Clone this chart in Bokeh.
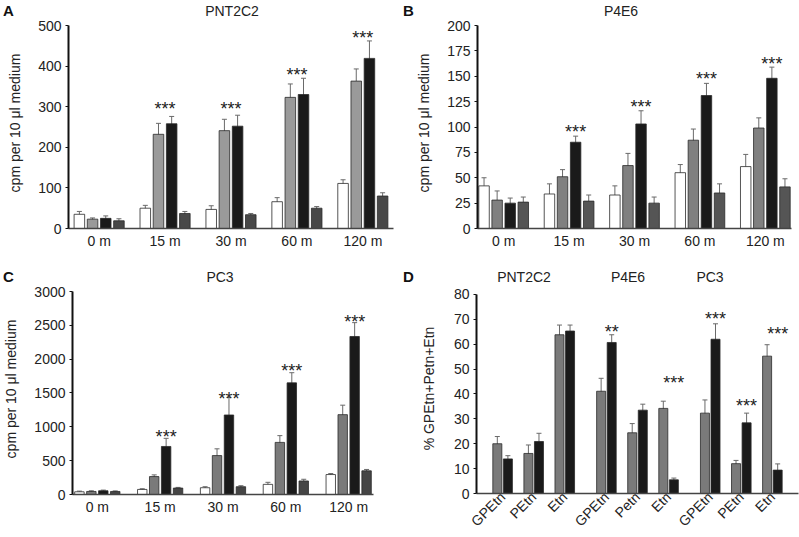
import math
from bokeh.plotting import figure
from bokeh.models import (ColumnDataSource, FactorRange, Whisker, TeeHead, Div,
                          FixedTicker)
from bokeh.transform import dodge
from bokeh.layouts import row, column
from bokeh.core.properties import value
from bokeh.embed import file_html
from bokeh.resources import INLINE

FONT = "Liberation Sans"

times = ["0 m", "15 m", "30 m", "60 m", "120 m"]

# Panel A - PNT2C2
a_s1 = [35, 50, 47, 66, 111]
a_s1_err = [7, 7, 9, 10, 9]
a_s2 = [23, 232, 241, 323, 363]
a_s2_err = [3, 27, 28, 33, 30]
a_s3 = [25, 258, 252, 330, 419]
a_s3_err = [6, 18, 27, 40, 43]
a_s4 = [19, 37, 34, 50, 80]
a_s4_err = [5, 5, 3, 4, 8]
a_star_times = ["15 m", "30 m", "60 m", "120 m"]
a_star_y = [318, 318, 403, 493]

# Panel B - P4E6
b_s1 = [42, 34, 33, 55, 61]
b_s1_err = [8, 10, 9, 8, 12]
b_s2 = [28, 51, 62, 87, 99]
b_s2_err = [9, 7, 12, 11, 10]
b_s3 = [25, 85, 103, 131, 148]
b_s3_err = [5, 6, 13, 12, 11]
b_s4 = [26, 27, 25, 35, 41]
b_s4_err = [5, 6, 6, 9, 8]
b_star_times = ["15 m", "30 m", "60 m", "120 m"]
b_star_y = [105, 129.5, 157, 172]

# Panel C - PC3
c_s1 = [40, 75, 100, 150, 295]
c_s1_err = [10, 10, 15, 30, 15]
c_s2 = [45, 265, 575, 770, 1180]
c_s2_err = [10, 25, 100, 100, 140]
c_s3 = [55, 710, 1175, 1650, 2335]
c_s3_err = [10, 120, 260, 150, 205]
c_s4 = [45, 95, 115, 200, 350]
c_s4_err = [8, 10, 15, 25, 20]
c_star_times = ["15 m", "30 m", "60 m", "120 m"]
c_star_y = [1000, 1565, 1966, 2700]

# Panel D - % of GPEtn+PEtn+Etn
d_groups = ["PNT2C2", "PNT2C2", "PNT2C2", "P4E6", "P4E6", "P4E6", "PC3", "PC3", "PC3"]
d_metab = ["GPEtn", "PEtn", "Etn", "GPEtn", "Petn", "Etn", "GPEtn", "PEtn", "Etn"]
d_gray = [20, 16.1, 63.8, 41.1, 24.4, 34.2, 32.3, 12.0, 55.2]
d_gray_err = [2.9, 3.4, 3.9, 5.2, 3.7, 2.9, 5.3, 1.3, 4.6]
d_black = [13.9, 20.9, 65.3, 60.7, 33.5, 5.5, 62.0, 28.4, 9.4]
d_black_err = [1.3, 3.3, 2.4, 3.1, 2.4, 0.7, 6.2, 3.9, 2.5]
d_star_keys = [("P4E6", "GPEtn"), ("P4E6", "Etn"), ("PC3", "GPEtn"), ("PC3", "PEtn"), ("PC3", "Etn")]
d_star_text = ["**", "***", "***", "***", "***"]
d_star_y = [69, 48.5, 74, 39, 68.3]
d_titles = ["PNT2C2", "P4E6", "PC3"]

ERR_COLOR = "#6a6a6a"
BAR_LINE = "#2a2a2a"


def style_axes(p, ticks, bounds, ylabel, label_standoff):
    p.outline_line_color = None
    p.xgrid.grid_line_color = None
    p.ygrid.grid_line_color = None
    p.background_fill_color = "white"
    p.border_fill_color = "white"
    yax = p.yaxis[0]
    yax.ticker = FixedTicker(ticks=ticks)
    yax.bounds = bounds
    yax.axis_label = ylabel
    yax.axis_label_text_font = FONT
    yax.axis_label_text_font_size = "14px"
    yax.axis_label_text_font_style = "normal"
    yax.axis_label_text_color = "#222222"
    yax.axis_label_standoff = label_standoff
    yax.major_label_text_font = FONT
    yax.major_label_text_font_size = "14px"
    yax.major_label_text_color = "#222222"
    yax.major_tick_out = 3
    yax.major_tick_in = 0
    yax.minor_tick_out = 0
    yax.minor_tick_in = 0
    yax.axis_line_width = 2
    yax.axis_line_color = "#111111"
    yax.major_tick_line_color = "#111111"
    yax.major_label_standoff = 4
    xax = p.xaxis[0]
    xax.major_label_text_font = FONT
    xax.major_label_text_font_size = "14px"
    xax.major_label_text_color = "#222222"
    xax.major_tick_out = 0
    xax.major_tick_in = 0
    xax.axis_line_width = 1.5
    xax.axis_line_color = "#444444"
    xax.major_label_standoff = 4


def header(width, height, letter, names):
    spans = ['<span style="position:absolute;left:3px;top:0px;font-size:15px;'
             'font-weight:bold;color:#111">%s</span>' % letter]
    for cx, top, txt in names:
        spans.append('<span style="position:absolute;left:%dpx;top:%dpx;'
                     'transform:translateX(-50%%);font-size:14px;'
                     'white-space:nowrap;color:#222">%s</span>' % (cx, top, txt))
    html = ('<div style="position:relative;width:%dpx;height:%dpx;'
            'font-family:\'Liberation Sans\',Arial,sans-serif">%s</div>'
            % (width, height, "".join(spans)))
    return Div(text=html, width=width, height=height, margin=0)


def time_panel(series, errs, colors, y_end, y_ticks, y_max,
               star_times, star_y, star_off, width, height,
               b_left, b_right, b_bottom, range_pad, bw, step):
    p = figure(width=width, height=height, output_backend="svg", toolbar_location=None,
               x_range=FactorRange(factors=times, range_padding=range_pad,
                                   range_padding_units="absolute"),
               y_range=(0, y_end), title=None,
               min_border_left=b_left, min_border_right=b_right,
               min_border_top=0, min_border_bottom=b_bottom)
    offs = [-1.5 * step, -0.5 * step, 0.5 * step, 1.5 * step]
    for vals, ers, col, off in zip(series, errs, colors, offs):
        src = ColumnDataSource(dict(t=times, v=vals,
                                    up=[v + e for v, e in zip(vals, ers)],
                                    lo=[v - e for v, e in zip(vals, ers)]))
        p.vbar(x=dodge("t", off, range=p.x_range), top="v", width=bw, source=src,
               fill_color=col, line_color=BAR_LINE, line_width=0.8)
        p.add_layout(Whisker(source=src, base=dodge("t", off, range=p.x_range),
                             upper="up", lower="lo", line_color=ERR_COLOR, line_width=1,
                             upper_head=TeeHead(size=5, line_color=ERR_COLOR, line_width=1),
                             lower_head=TeeHead(size=5, line_color=ERR_COLOR, line_width=1)))
    ssrc = ColumnDataSource(dict(t=star_times, y=star_y, s=["***"] * len(star_times)))
    p.text(x=dodge("t", star_off, range=p.x_range), y="y", text="s", source=ssrc,
           text_font=value(FONT), text_font_size="18px", text_align="center",
           text_baseline="alphabetic", y_offset=10, text_color="#222222")
    style_axes(p, y_ticks, (0, y_max), "cpm per 10 μl medium", 12)
    return p


pA = time_panel([a_s1, a_s2, a_s3, a_s4], [a_s1_err, a_s2_err, a_s3_err, a_s4_err],
                ["#ffffff", "#9a9a9a", "#1a1a1a", "#484848"],
                519.7, [0, 100, 200, 300, 400, 500], 500,
                a_star_times, a_star_y, 0.0, 400, 249, 68, 7, 38, -0.035, 0.16, 0.2)
pB = time_panel([b_s1, b_s2, b_s3, b_s4], [b_s1_err, b_s2_err, b_s3_err, b_s4_err],
                ["#ffffff", "#808080", "#1a1a1a", "#555555"],
                207.9, [0, 25, 50, 75, 100, 125, 150, 175, 200], 200,
                b_star_times, b_star_y, 0.1, 399, 249, 77, 8, 38, -0.1, 0.16, 0.2)
pC = time_panel([c_s1, c_s2, c_s3, c_s4], [c_s1_err, c_s2_err, c_s3_err, c_s4_err],
                ["#ffffff", "#7a7a7a", "#1a1a1a", "#454545"],
                3118.2, [0, 500, 1000, 1500, 2000, 2500, 3000], 3000,
                c_star_times, c_star_y, 0.095, 400, 254, 69, 27, 43, -0.105, 0.15, 0.19)

# Panel D
d_x = list(zip(d_groups, d_metab))
pD = figure(width=399, height=254, output_backend="svg", toolbar_location=None,
            x_range=FactorRange(factors=d_x, group_padding=0.34, range_padding=0.34,
                                range_padding_units="absolute"),
            y_range=(0, 84.4), title=None,
            min_border_left=76, min_border_right=1, min_border_top=0, min_border_bottom=43)
for vals, ers, col, off in [(d_gray, d_gray_err, "#7a7a7a", -0.17),
                            (d_black, d_black_err, "#1a1a1a", 0.17)]:
    src = ColumnDataSource(dict(x=d_x, v=vals,
                                up=[v + e for v, e in zip(vals, ers)],
                                lo=[v - e for v, e in zip(vals, ers)]))
    pD.vbar(x=dodge("x", off, range=pD.x_range), top="v", width=0.29, source=src,
            fill_color=col, line_color=BAR_LINE, line_width=0.8)
    pD.add_layout(Whisker(source=src, base=dodge("x", off, range=pD.x_range),
                          upper="up", lower="lo", line_color=ERR_COLOR, line_width=1,
                          upper_head=TeeHead(size=5, line_color=ERR_COLOR, line_width=1),
                          lower_head=TeeHead(size=5, line_color=ERR_COLOR, line_width=1)))
dsrc = ColumnDataSource(dict(x=d_star_keys, y=d_star_y, s=d_star_text))
pD.text(x=dodge("x", 0.17, range=pD.x_range), y="y", text="s", source=dsrc,
        text_font=value(FONT), text_font_size="18px", text_align="center",
        text_baseline="alphabetic", y_offset=10, text_color="#222222")
style_axes(pD, [0, 10, 20, 30, 40, 50, 60, 70, 80], (0, 80), "% GPEtn+Petn+Etn", 14)
xd = pD.xaxis[0]
xd.major_label_orientation = math.pi / 4
xd.major_label_standoff = 1
xd.group_text_font_size = "0px"
xd.group_text_alpha = 0
xd.separator_line_alpha = 0

hA = header(400, 17, "A", [(232, 1, "PNT2C2")])
hB = header(399, 17, "B", [(221, 1, "P4E6")])
hC = header(400, 17, "C", [(220, 1, "PC3")])
hD = header(399, 17, "D", [(124, 1, d_titles[0]), (228, 1, d_titles[1]),
                           (310, 1, d_titles[2])])

layout = column(row(column(hA, pA), column(hB, pB)),
                row(column(hC, pC), column(hD, pD)))
open("out.html", "w").write(file_html(layout, INLINE))
